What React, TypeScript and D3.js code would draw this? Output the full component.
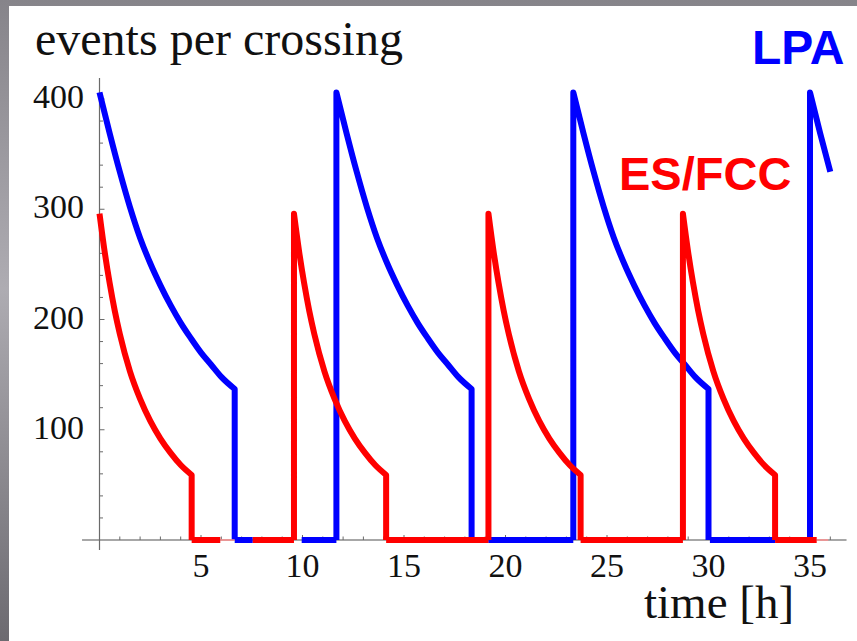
import React from 'react';
import * as d3 from 'd3';

const W = 857;
const H = 641;

// LPA (blue): refill starts, luminosity decay within one fill, idle stretches drawn at zero
const lpaFillStarts = [0, 11.67, 23.34, 35.0];
const lpaDecayT = [0, 0.5, 1.0, 1.5, 2.0, 2.5, 3.0, 3.5, 4.0, 4.5, 5.0, 5.5, 6.0, 6.66];
const lpaDecayN = [406, 369, 334, 302, 274, 251, 231, 213, 197, 183, 170, 159, 148, 137];
const lpaIdle = [[6.66, 7.55], [9.96, 11.67], [19.15, 23.34], [30.07, 33.28]];

// ES/FCC (red)
const fccFillStarts = [0, 9.58, 19.16, 28.74];
const fccDecayT = [0, 0.25, 0.5, 0.75, 1.0, 1.5, 2.0, 2.5, 3.0, 3.5, 4.0, 4.54];
const fccDecayN = [296, 262, 233, 208, 187, 153, 128, 108, 92, 79, 68, 59];
const fccIdle = [[4.54, 5.95], [7.55, 9.58], [14.12, 19.16], [23.7, 28.74], [33.28, 35.33]];
const fccFaint = [[5.95, 6.66], [35.33, 35.9]];

const tEnd = 36.0;
const xTicks = [5, 10, 15, 20, 25, 30, 35];
const yTicks = [100, 200, 300, 400];
const xMinor = d3.range(1, 37);
const yMinor = d3.range(20, 420, 20);
const xAxisSpan = [-0.86, 36.8];
const yAxisSpan = [-9, 419];

const x = d3.scaleLinear().domain([0, 35]).range([99.5, 810]);
const y = d3.scaleLinear().domain([0, 400]).range([540, 99]);

const straight = d3.line<[number, number]>().x(d => x(d[0])).y(d => y(d[1]));
const smooth = d3.line<[number, number]>().x(d => x(d[0])).y(d => y(d[1])).curve(d3.curveMonotoneX);

// one fill: vertical rise, smooth decay, vertical drop
function fillPath(s: number, ts: number[], ns: number[]) {
  const pts: [number, number][] = [];
  ts.forEach((t, i) => {
    if (s + t <= tEnd + 1e-6) pts.push([s + t, ns[i]]);
  });
  let d = smooth(pts) || '';
  if (s > 0) d = `M${x(s)},${y(0)}L` + d.slice(1);
  const last = ts[ts.length - 1];
  if (s + last <= tEnd) d += `L${x(s + last)},${y(0)}`;
  return d;
}

const serif = '"Liberation Serif", "Times New Roman", serif';
const sans = '"Liberation Sans", Arial, sans-serif';

export default function App() {
  const seg = (a: number[]) => straight([[a[0], 0], [a[1], 0]]) || '';
  const axisColor = '#6a6a6a';

  return (
    <svg width={W} height={H} style={{ position: 'absolute', left: 0, top: 0, display: 'block' }}>
      <defs>
        <linearGradient id="frame" x1="0" y1="0" x2="0" y2="1">
          <stop offset="0" stopColor="#86848a" />
          <stop offset="0.45" stopColor="#aeacb2" />
          <stop offset="1" stopColor="#6c6a70" />
        </linearGradient>
      </defs>
      <rect x={0} y={0} width={W} height={H} fill="url(#frame)" />
      <rect x={9} y={6} width={W - 9} height={H - 6} fill="#ffffff" />

      {/* axes */}
      <line x1={x(xAxisSpan[0])} x2={x(xAxisSpan[1])} y1={y(0)} y2={y(0)} stroke="#8a8a8a" strokeWidth={1.5} />
      <line x1={x(0)} x2={x(0)} y1={y(yAxisSpan[0])} y2={y(yAxisSpan[1])} stroke={axisColor} strokeWidth={1.2} />
      {xMinor.map(v => (
        <line key={'xm' + v} x1={x(v)} x2={x(v)} y1={y(0)} y2={y(0) - (v % 5 === 0 ? 5 : 3.5)} stroke={axisColor} strokeWidth={1} />
      ))}
      {yMinor.map(v => (
        <line key={'ym' + v} x1={x(0)} x2={x(0) + (v % 100 === 0 ? 5 : 3.5)} y1={y(v)} y2={y(v)} stroke={axisColor} strokeWidth={1} />
      ))}
      {xTicks.map(v => (
        <text key={'xt' + v} x={x(v)} y={577} textAnchor="middle" fontFamily={serif} fontSize={34} fill="#111">{v}</text>
      ))}
      {yTicks.map(v => (
        <text key={'yt' + v} x={84} y={y(v) + 9} textAnchor="end" fontFamily={serif} fontSize={34} fill="#111">{v}</text>
      ))}

      {/* LPA */}
      <g fill="none" stroke="#0000ff" strokeWidth={6} strokeLinejoin="round">
        {lpaFillStarts.map((s, i) => <path key={'l' + i} d={fillPath(s, lpaDecayT, lpaDecayN)} />)}
        {lpaIdle.map((a, i) => <path key={'li' + i} d={seg(a)} />)}
      </g>

      {/* ES/FCC */}
      <g fill="none" stroke="#ff0000" strokeWidth={6} strokeLinejoin="round">
        {fccFillStarts.map((s, i) => <path key={'f' + i} d={fillPath(s, fccDecayT, fccDecayN)} />)}
        {fccIdle.map((a, i) => <path key={'fi' + i} d={seg(a)} />)}
      </g>
      <g fill="none" stroke="#ff9090" strokeWidth={1.5}>
        {fccFaint.map((a, i) => <path key={'ff' + i} d={seg(a)} />)}
      </g>

      <text x={35} y={55} fontFamily={serif} fontSize={48} fill="#111">events per crossing</text>
      <text x={644} y={618} fontFamily={serif} fontSize={47} fill="#111">time [h]</text>
      <text x={752} y={64} fontFamily={sans} fontWeight="bold" fontSize={48} fill="#0000ff">LPA</text>
      <text x={619} y={190} fontFamily={sans} fontWeight="bold" fontSize={47} fill="#ff0000">ES/FCC</text>
    </svg>
  );
}
